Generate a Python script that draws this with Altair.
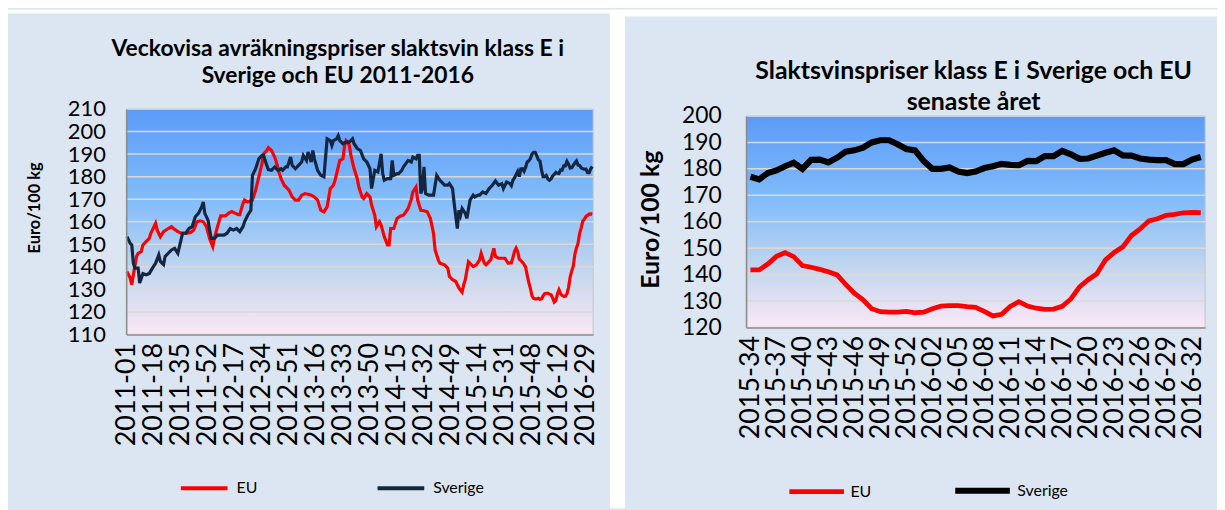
import altair as alt
import pandas as pd

# ---------------- categories ----------------
AR = [2011, 2012, 2013, 2014, 2015, 2016]
VECKOR_PER_AR = [52, 52, 52, 52, 53, 33]
alla_veckor = [f"{y}-{w:02d}" for y, n in zip(AR, VECKOR_PER_AR) for w in range(1, n + 1)]

vanster_etiketter = ["2011-01", "2011-18", "2011-35", "2011-52", "2012-17", "2012-34",
                     "2012-51", "2013-16", "2013-33", "2013-50", "2014-15", "2014-32",
                     "2014-49", "2015-14", "2015-31", "2015-48", "2016-12", "2016-29"]
hoger_etiketter = ["2015-34", "2015-37", "2015-40", "2015-43", "2015-46", "2015-49",
                   "2015-52", "2016-02", "2016-05", "2016-08", "2016-11", "2016-14",
                   "2016-17", "2016-20", "2016-23", "2016-26", "2016-29", "2016-32"]
vanster_y = [110, 120, 130, 140, 150, 160, 170, 180, 190, 200, 210]
hoger_y = [120, 130, 140, 150, 160, 170, 180, 190, 200]

vanster_titel = ["Veckovisa avräkningspriser slaktsvin klass E i", "Sverige och EU 2011-2016"]
hoger_titel = ["Slaktsvinspriser klass E i Sverige och EU", "senaste året"]

# ---------------- senaste året (2015-34 .. 2016-33) ----------------
ar_veckor = alla_veckor[241:]
ar_eu = [141.8, 141.8, 144, 146.9, 148.3, 146.8, 143.4, 142.8, 142, 141.1,
         139.9, 136.3, 133, 130.5, 127.1, 126, 125.8, 125.8, 126.1, 125.6,
         125.8, 127.1, 128.1, 128.3, 128.3, 127.9, 127.6, 126.1, 124.4, 125,
         128, 129.8, 128.1, 127.3, 126.9, 127, 128, 130.8, 135.4, 138.1,
         140.3, 145.6, 148.4, 150.5, 154.8, 157.3, 160.3, 161.1, 162.4, 162.8,
         163.4, 163.5, 163.4]
ar_sverige = [177, 176, 178.4, 179.4, 181, 182.3, 180, 183.4, 183.5, 182.4,
              184.2, 186.5, 187, 188, 190, 190.8, 190.8, 189.3, 187.5, 187,
              183, 180, 180, 180.5, 179, 178.4, 179, 180.3, 181, 181.9,
              181.5, 181.4, 183, 182.9, 184.8, 184.8, 186.8, 185.5, 183.8, 183.9,
              185, 186.1, 187, 185.1, 185, 183.9, 183.5, 183.3, 183.3, 181.8,
              181.8, 183.5, 184.5]
assert len(ar_veckor) == len(ar_eu) == len(ar_sverige) == 53

# ---------------- 2011-01 .. 2015-33 (veckonummer från 2011-01 = 0) ----------------
sv_nr = [0, 2, 3, 4, 5, 7, 8, 10, 12, 14, 16, 18, 20, 21, 23, 24, 27, 28, 30, 32, 33, 35, 37, 39,
         41, 43, 45, 47, 48, 49, 51, 53, 55, 57, 59, 61, 63, 65, 67, 69, 71, 73, 74, 76, 78, 79,
         81, 83, 85, 86, 88, 89, 91, 93, 95, 97, 98, 100, 101, 103, 104, 106, 108, 110, 111,
         113, 114, 116, 117, 118, 120, 122, 124, 126, 128, 129, 130, 132, 133, 134, 136, 138,
         140, 142, 143, 145, 147, 149, 151, 153, 154, 156, 158, 160, 161, 162, 164, 166, 167,
         168, 170, 171, 173, 174, 177, 179, 180, 182, 183, 184, 185, 186, 187, 188, 190, 192,
         193, 195, 197, 200, 202, 203, 205, 206, 208, 209, 210, 211, 213, 214, 216, 218, 219,
         221, 222, 224, 226, 228, 230, 232, 234, 236, 237, 239]
sv_pris = [153.4, 150.4, 149.7, 141.6, 139.4, 139.4, 132.8, 137, 136.5, 137, 139.4, 141.6, 145.3,
           142.4, 141, 144.6, 146.8, 147.5, 148.2, 146, 149, 154.9, 154.9, 157, 157.8, 162.2,
           163.7, 166.6, 168.8, 163.7, 160.7, 152.6, 152.6, 154.1, 154.1, 154.1, 154.9, 157,
           156.3, 157, 155.6, 157.8, 160, 162.9, 165.1, 180.6, 183.5, 187.9, 189.4, 189.4, 185,
           183.1, 182.8, 184.3, 182.8, 183.5, 182.8, 184.3, 184.3, 188.7, 185, 183.5, 185, 186.5,
           189.4, 187.2, 190.9, 186.5, 191.6, 187.9, 182.8, 180.6, 179.9, 196.8, 196, 193.8, 196,
           196.8, 198.2, 196, 194.6, 195.3, 195.3, 196.8, 194.6, 192.4, 191.6, 187.9, 186.5,
           183.5, 174.7, 182.8, 182.1, 190.1, 181.3, 178.4, 179.1, 179.1, 187.2, 180.6, 181.3,
           181.3, 182.8, 184.3, 187.2, 186.5, 188.7, 187.9, 189.4, 189.4, 172.5, 174.7, 184.3,
           172.5, 171.8, 171.8, 171.8, 180.6, 178.4, 176.2, 176.2, 176.9, 174.7, 168.1, 157,
           165.1, 162.9, 165.9, 163.7, 161.5, 169.6, 171.8, 171, 171.8, 171.8, 173.2, 172.5,
           174.7, 176.2, 178.1, 176.2, 176.9, 174.7, 177.6]
eu_nr = [0, 2, 3, 4, 6, 7, 9, 10, 12, 14, 15, 17, 18, 19, 21, 23, 26, 28, 30, 32, 34, 36, 38, 40,
         42, 44, 46, 48, 50, 52, 54, 55, 57, 59, 62, 64, 66, 68, 70, 71, 73, 74, 76, 79, 81, 83,
         85, 86, 88, 89, 91, 93, 94, 96, 97, 99, 102, 104, 106, 108, 110, 112, 114, 116, 118,
         120, 122, 124, 126, 128, 130, 131, 133, 134, 136, 137, 138, 139, 140, 141, 143, 145,
         146, 148, 149, 151, 153, 154, 156, 157, 159, 160, 162, 164, 165, 166, 168, 170, 172,
         174, 175, 177, 179, 180, 182, 183, 185, 187, 189, 191, 193, 194, 196, 197, 200, 202,
         203, 205, 207, 209, 211, 212, 213, 215, 216, 218, 220, 222, 223, 225, 226, 229, 231,
         232, 234, 236, 238, 240]
eu_pris = [137.9, 135, 132.1, 136.5, 144.6, 146, 146.8, 149.7, 151.2, 152.6, 154.9, 157.8, 159.3,
           156.3, 153.4, 155.6, 157, 157.8, 156.6, 155.6, 154.9, 154.9, 154.9, 155.2, 156.3, 160,
           160.4, 160, 157.8, 152.6, 149, 152.6, 157.8, 162.6, 162.6, 163.8, 164.5, 163.8, 163.1,
           163.1, 168.1, 169.6, 168.8, 169.6, 174, 179.9, 185.7, 190.1, 191.6, 192.8, 191.6,
           188.7, 186.5, 181.3, 179.1, 176.2, 174, 171, 169.6, 169.6, 171.8, 172.5, 172.2, 171.8,
           171, 169.6, 165.1, 164.4, 166.6, 174.7, 176.2, 178.4, 184.3, 187.2, 187.9, 193.8, 196,
           195.3, 193.8, 189.4, 183.5, 179.1, 175.4, 171, 170.3, 172.5, 171, 167.4, 162.9, 157.8,
           160, 158.5, 153.4, 149.7, 149.7, 157, 157, 161.5, 162.5, 162.9, 163.7, 165.9, 169.9,
           173.2, 175.4, 169.6, 165.1, 164.9, 164.4, 161.5, 154.9, 147.5, 143.1, 141.6, 140.9,
           139.4, 135.7, 134.3, 133.5, 130.6, 128.8, 132.1, 134.3, 142.2, 141.5, 140.1, 140.9,
           143.1, 146, 141.6, 140.9, 143.1, 148.2, 144.6, 143.8, 143.8, 143.8, 141.6]
assert len(sv_nr) == len(sv_pris) and len(eu_nr) == len(eu_pris)

# ---------------- tables ----------------
vanster = pd.DataFrame(
    [{"vecka": alla_veckor[i], "serie": "EU", "pris": p} for i, p in zip(eu_nr, eu_pris)]
    + [{"vecka": v, "serie": "EU", "pris": p} for v, p in zip(ar_veckor, ar_eu)]
    + [{"vecka": alla_veckor[i], "serie": "Sverige", "pris": p} for i, p in zip(sv_nr, sv_pris)]
    + [{"vecka": v, "serie": "Sverige", "pris": p} for v, p in zip(ar_veckor, ar_sverige)]
)
hoger = pd.DataFrame(
    [{"vecka": v, "serie": "EU", "pris": p} for v, p in zip(ar_veckor, ar_eu)]
    + [{"vecka": v, "serie": "Sverige", "pris": p} for v, p in zip(ar_veckor, ar_sverige)]
)
ett = pd.DataFrame({"a": [0]})

FONT = "Lato"
PANEL = "#dce6f2"

gradient = alt.LinearGradient(
    gradient="linear", x1=0, x2=0, y1=0, y2=1,
    stops=[alt.GradientStop(color="#5b9bf8", offset=0),
           alt.GradientStop(color="#82bcfa", offset=0.4),
           alt.GradientStop(color="#c3d6ee", offset=0.72),
           alt.GradientStop(color="#fbe8f6", offset=1)],
)


def white_rect(x1, x2, y1, y2):
    return alt.Chart(ett).mark_rect(color="white", strokeWidth=0).encode(
        x=alt.value(x1), x2=alt.value(x2), y=alt.value(y1), y2=alt.value(y2))


def plot_bg(w, h):
    return alt.Chart(ett).mark_rect(color=gradient, stroke="#c4c4c4", strokeWidth=1).encode(
        x=alt.value(0), x2=alt.value(w), y=alt.value(0), y2=alt.value(h))


def title_line(text, x, y, size):
    return alt.Chart(ett).mark_text(font=FONT, fontSize=size, fontWeight="bold", color="black",
                                    align="center", baseline="middle").encode(
        x=alt.value(x), y=alt.value(y), text=alt.value(text))


def x_axis(values):
    return alt.Axis(values=values, labelAngle=-90, labelFontSize=27, labelFont=FONT,
                    labelPadding=8, ticks=False, grid=False, title=None, labelOverlap=False,
                    labelColor="black", domainColor="#8c8c8c", domainWidth=1.5, zindex=1)


def y_axis(vals, label_size, title_size, label_pad, title_pad, title_y):
    return alt.Axis(values=vals, title="Euro/100 kg", titleFontSize=title_size, titleFont=FONT,
                    titleFontWeight="bold", titlePadding=title_pad, titleColor="black",
                    titleY=title_y,
                    labelFontSize=label_size, labelFont=FONT, labelPadding=label_pad,
                    labelColor="black", labelOverlap=False, ticks=False, grid=False,
                    domainColor="#8c8c8c", domainWidth=1.5, zindex=1)


def y_enc(domain, axis):
    return alt.Y("pris:Q", scale=alt.Scale(domain=domain, nice=False, zero=False), axis=axis)


def grid(vals, domain, axis):
    return alt.Chart(pd.DataFrame({"pris": vals})).mark_rule(
        color="#d9d9d9", strokeWidth=1.5).encode(y=y_enc(domain, axis))


# ---------------- left panel (plot area at page 127,108) ----------------
v_axis = y_axis(vanster_y, 22, 16.5, 21, 25, 99)
v_lines = alt.Chart(vanster).mark_line(strokeWidth=3.2).encode(
    x=alt.X("vecka:O", scale=alt.Scale(domain=alla_veckor), axis=x_axis(vanster_etiketter)),
    y=y_enc([110, 210], v_axis),
    color=alt.Color("serie:N",
                    scale=alt.Scale(domain=["EU", "Sverige"], range=["#ff0000", "#14263f"]),
                    legend=alt.Legend(title=None, orient="none", legendX=53, legendY=356,
                                      direction="horizontal", symbolType="stroke",
                                      symbolSize=2209, symbolStrokeWidth=4, labelFontSize=16,
                                      labelFont=FONT, labelColor="black", labelOffset=7,
                                      columnPadding=112)),
)
left = alt.layer(
    white_rect(-119, 1098, -100, -96),
    title_line(vanster_titel[0], 213, -60, 23),
    title_line(vanster_titel[1], 213, -33, 23),
    plot_bg(470, 227),
    grid(vanster_y, [110, 210], v_axis),
    v_lines,
).properties(width=470, height=227)

# ---------------- right panel (plot area at page 751,115) ----------------
h_axis = y_axis(hoger_y, 23, 25, 25, 18, 104)
h_lines = alt.Chart(hoger).mark_line().encode(
    x=alt.X("vecka:O", scale=alt.Scale(domain=ar_veckor), axis=x_axis(hoger_etiketter)),
    y=y_enc([120, 200], h_axis),
    color=alt.Color("serie:N",
                    scale=alt.Scale(domain=["EU", "Sverige"], range=["#ff0000", "#000000"]),
                    legend=alt.Legend(title=None, orient="none", legendX=41, legendY=346,
                                      direction="horizontal", symbolType="stroke",
                                      symbolSize=3025, symbolStrokeWidth=6, labelFontSize=16,
                                      labelFont=FONT, labelColor="black", labelOffset=4,
                                      columnPadding=71)),
    strokeWidth=alt.StrokeWidth("serie:N",
                                scale=alt.Scale(domain=["EU", "Sverige"], range=[4.8, 6.2]),
                                legend=None),
)
right = alt.layer(
    white_rect(-137, -122, -107, 395),
    white_rect(-122, 474, -107, -100),
    title_line(hoger_titel[0], 229, -45, 25),
    title_line(hoger_titel[1], 229, -14, 25),
    plot_bg(462, 213),
    grid(hoger_y, [120, 200], h_axis),
    h_lines,
).properties(width=462, height=213)

chart = (
    alt.hconcat(left, right, spacing=154, center=True, bounds="flush")
    .resolve_scale(color="independent", strokeWidth="independent")
    .resolve_legend(color="independent")
    .properties(padding={"left": 0, "top": 0, "right": 0, "bottom": 0})
    .configure(background=PANEL, font=FONT)
    .configure_view(stroke=None)
)

chart.save("out.html", embed_options={"renderer": "svg", "actions": False})
